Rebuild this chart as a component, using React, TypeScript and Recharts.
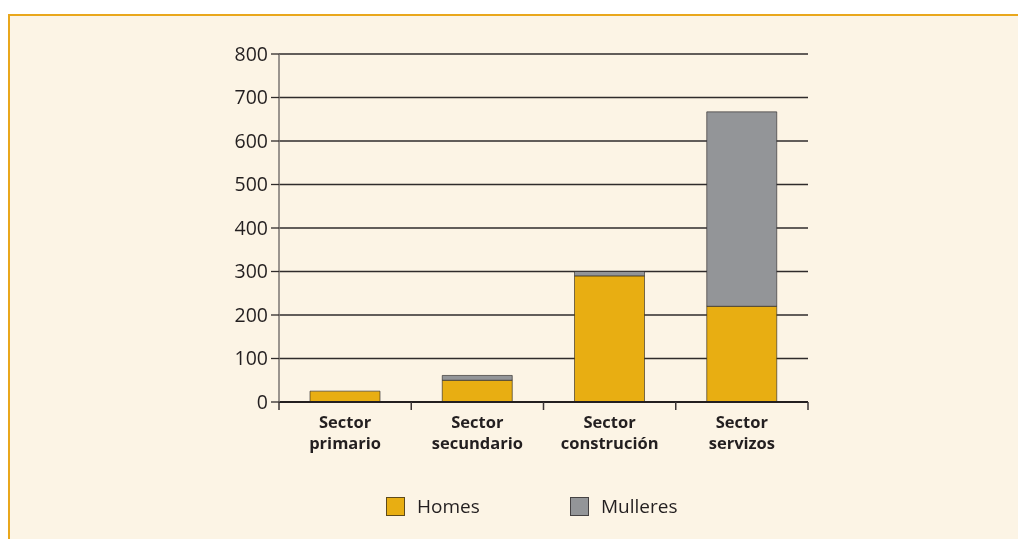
import { Bar, BarChart, CartesianGrid, XAxis, YAxis } from "recharts";

const sectors = ["Sector primario", "Sector secundario", "Sector construción", "Sector servizos"];
const homes = [25, 50, 290, 220];
const mulleres = [0, 11, 10, 447];
const yTicks = [0, 100, 200, 300, 400, 500, 600, 700, 800];

const series = [
  { key: "homes", name: "Homes", color: "#E8AE12" },
  { key: "mulleres", name: "Mulleres", color: "#939598" },
];

const data = sectors.map((s, i) => ({
  sector: s,
  homes: homes[i],
  mulleres: mulleres[i],
}));

const FONT = "'Open Sans', 'Noto Sans', sans-serif";
const INK = "#231F20";

// category label in two lines, plus the small tick marks at the band edges
function SectorTick(props: any) {
  const { x, y, payload, index, visibleTicksCount } = props;
  const half = payload.offset || 0;
  const [first, ...rest] = String(payload.value).split(" ");
  const last = index === visibleTicksCount - 1;
  return (
    <g>
      {half > 0 && (
        <line x1={x - half} x2={x - half} y1={y} y2={y + 8} stroke="#3a3535" strokeWidth={1.5} />
      )}
      {half > 0 && last && (
        <line x1={x + half} x2={x + half} y1={y} y2={y + 8} stroke="#3a3535" strokeWidth={1.5} />
      )}
      <text x={x} y={y} textAnchor="middle" fill={INK} fontFamily={FONT} fontWeight={700} fontSize={16.5}>
        <tspan x={x} dy={26}>{first}</tspan>
        <tspan x={x} dy={21}>{rest.join(" ")}</tspan>
      </text>
    </g>
  );
}

export default function App() {
  return (
    <div style={{ position: "relative", width: 1000, height: 520, fontFamily: FONT }}>
      <div
        style={{
          position: "fixed",
          left: 8,
          top: 14,
          right: 0,
          bottom: 0,
          background: "#FCF4E5",
          borderTop: "2.5px solid #E9A71C",
          borderLeft: "2.5px solid #E9A71C",
        }}
      />
      <div style={{ position: "absolute", left: 0, top: 0 }}>
        <BarChart
          width={1000}
          height={520}
          data={data}
          barSize={70}
          margin={{ top: 46, right: 200, left: 211, bottom: 86 }}
        >
          <CartesianGrid vertical={false} stroke="#2f2b2b" strokeWidth={1.3} />
          <XAxis
            dataKey="sector"
            height={40}
            tick={<SectorTick />}
            tickLine={false}
            tickSize={0}
            tickMargin={0}
            axisLine={{ stroke: "#231F20", strokeWidth: 2 }}
            interval={0}
          />
          <YAxis
            width={60}
            domain={[0, 800]}
            ticks={yTicks}
            tickSize={8}
            tickMargin={3}
            axisLine={{ stroke: "#7a7470", strokeWidth: 1.5 }}
            tickLine={{ stroke: "#2f2b2b", strokeWidth: 1.3 }}
            tick={{ fill: INK, fontSize: 19.5, fontFamily: FONT }}
          />
          {series.map((s) => (
            <Bar
              key={s.key}
              dataKey={s.key}
              name={s.name}
              stackId="a"
              fill={s.color}
              stroke="rgba(35,31,32,0.6)"
              strokeWidth={1}
              isAnimationActive={false}
            />
          ))}
        </BarChart>
      </div>
      <div
        style={{
          position: "absolute",
          left: 378,
          top: 485,
          display: "flex",
          fontSize: 19,
          color: INK,
        }}
      >
        {series.map((s, i) => (
          <div key={s.key} style={{ display: "flex", alignItems: "center", width: i === 0 ? 184 : 140 }}>
            <span
              style={{
                display: "inline-block",
                width: 17,
                height: 17,
                background: s.color,
                border: "1px solid rgba(35,31,32,0.7)",
                marginRight: 12,
              }}
            />
            <span>{s.name}</span>
          </div>
        ))}
      </div>
    </div>
  );
}
